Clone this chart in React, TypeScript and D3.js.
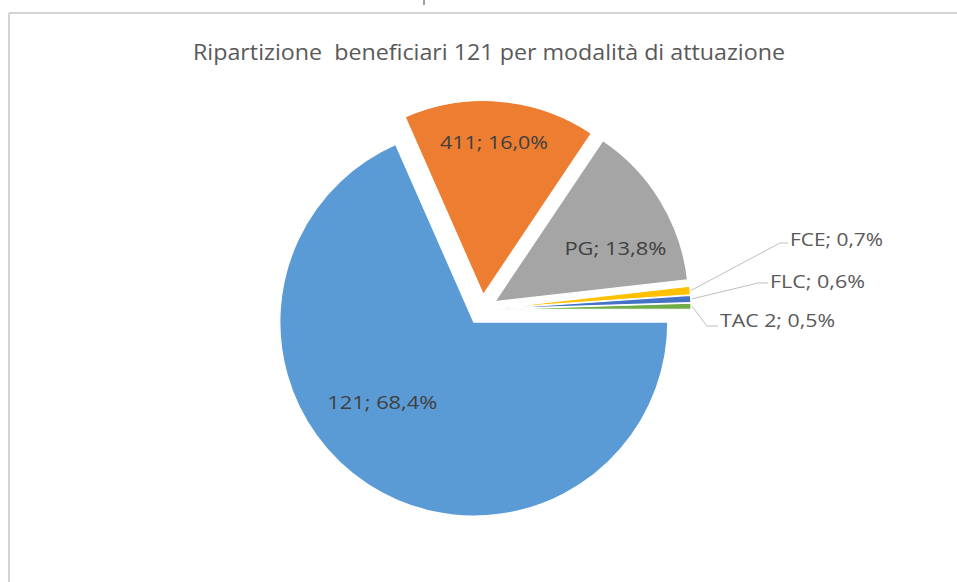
import React from "react";
import * as d3 from "d3";

// ---- data ----
const categories = ["121", "411", "PG", "FCE", "FLC", "TAC 2"];
const shares = [68.4, 16.0, 13.8, 0.7, 0.6, 0.5];
const sliceColors = ["#5B9BD5", "#ED7D31", "#A5A5A5", "#FFC000", "#4472C4", "#70AD47"];
const titleText = "Ripartizione  beneficiari 121 per modalità di attuazione";

// ---- layout ----
const W = 957;
const H = 582;
const CX = 482;
const CY = 309.5;
const R = 194;
const EXPLODE = 15;
const FONT = "'Open Sans', 'Noto Sans', 'Liberation Sans', sans-serif";

// label placement (polar offset from each exploded slice centre)
const insideLabels: Record<string, { angle: number; dist: number; width: number }> = {
  "121": { angle: 228.6, dist: 122, width: 110 },
  "411": { angle: 4, dist: 153, width: 108 },
  PG: { angle: 66, dist: 132, width: 102 },
};
// callout labels for the thin slices
const outsideLabels: Record<string, { elbow: [number, number]; textX: number; baseline: number; width: number }> = {
  FCE: { elbow: [780, 243], textX: 790, baseline: 245.5, width: 93 },
  FLC: { elbow: [758, 283], textX: 770, baseline: 287.5, width: 95 },
  "TAC 2": { elbow: [707, 326], textX: 720, baseline: 327, width: 115 },
};

const fmt = (v: number) => v.toFixed(1).replace(".", ",") + "%";

export default function App() {
  const data = categories.map((c, i) => ({ cat: c, value: shares[i], color: sliceColors[i] }));
  const pie = d3
    .pie<any>()
    .sort(null)
    .value((d) => d.value)
    .startAngle(Math.PI / 2)
    .endAngle(Math.PI / 2 + 2 * Math.PI);
  const arcs = pie(data);
  const arcGen = d3.arc<any>().innerRadius(0).outerRadius(R);

  const polar = (a: number, r: number): [number, number] => [r * Math.sin(a), -r * Math.cos(a)];

  return (
    <svg
      width={W}
      height={H}
      viewBox={`0 0 ${W} ${H}`}
      style={{ position: "absolute", left: 0, top: 0, display: "block", background: "#fff" }}
    >
      <rect x={0} y={0} width={W} height={H} fill="#ffffff" />
      {/* small mark above frame */}
      <line x1={424} y1={0} x2={424} y2={5} stroke="#404040" strokeWidth={1} />
      {/* chart frame */}
      <line x1={9} y1={13} x2={W} y2={13} stroke="#d4d4d4" strokeWidth={2} />
      <line x1={9} y1={13} x2={9} y2={H} stroke="#d4d4d4" strokeWidth={2} />

      <text
        x={489}
        y={60}
        textAnchor="middle"
        fontFamily={FONT}
        fontSize={21}
        fill="#595959"
        textLength={592}
        lengthAdjust="spacingAndGlyphs"
        style={{ whiteSpace: "pre" }}
      >
        {titleText}
      </text>

      {arcs.map((a, i) => {
        const mid = (a.startAngle + a.endAngle) / 2;
        const [ox, oy] = polar(mid, EXPLODE);
        return (
          <g key={i} transform={`translate(${CX + ox},${CY + oy})`}>
            <path d={arcGen(a) as string} fill={a.data.color} stroke="#ffffff" strokeWidth={1.2} />
          </g>
        );
      })}

      {arcs.map((a, i) => {
        const mid = (a.startAngle + a.endAngle) / 2;
        const [ox, oy] = polar(mid, EXPLODE);
        const sx = CX + ox;
        const sy = CY + oy;
        const label = `${a.data.cat}; ${fmt(a.data.value)}`;
        const inside = insideLabels[a.data.cat];
        if (inside) {
          const [lx, ly] = polar((inside.angle * Math.PI) / 180, inside.dist);
          return (
            <text
              key={"l" + i}
              x={sx + lx}
              y={sy + ly}
              dy="0.35em"
              textAnchor="middle"
              fontFamily={FONT}
              fontSize={19}
              fill="#404040"
              textLength={inside.width}
              lengthAdjust="spacingAndGlyphs"
            >
              {label}
            </text>
          );
        }
        const out = outsideLabels[a.data.cat];
        const [px, py] = polar(mid, R + 1);
        const start: [number, number] = [sx + px, sy + py];
        const path = d3.line()([start, out.elbow, [out.textX - 2, out.elbow[1]]]);
        return (
          <g key={"l" + i}>
            <path d={path as string} fill="none" stroke="#bfbfbf" strokeWidth={1} />
            <text
              x={out.textX}
              y={out.baseline}
              fontFamily={FONT}
              fontSize={19}
              fill="#595959"
              textLength={out.width}
              lengthAdjust="spacingAndGlyphs"
            >
              {label}
            </text>
          </g>
        );
      })}
    </svg>
  );
}
